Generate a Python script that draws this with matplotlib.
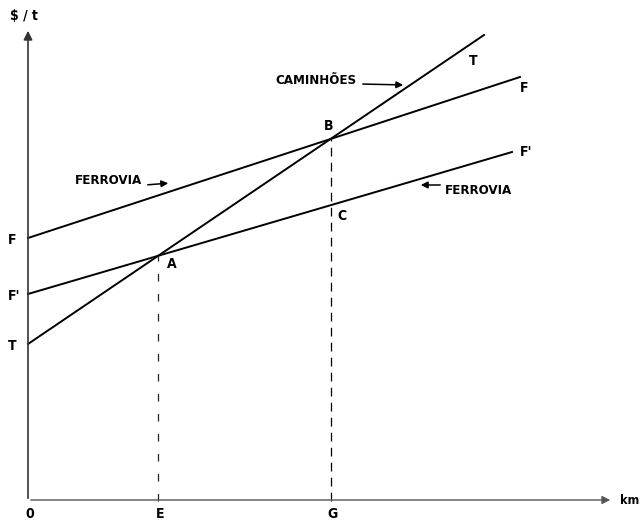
import matplotlib.pyplot as plt

# cost lines: (name, intercept at x=0, x end, y end)
line_names = ["F", "F'", "T"]
intercepts = [263, 207, 157]
x_ends = [492, 484, 456]
y_ends = [424, 349, 466]


def line_at(i, x):
    return intercepts[i] + (y_ends[i] - intercepts[i]) / x_ends[i] * x


def crossing(i, j):
    si = (y_ends[i] - intercepts[i]) / x_ends[i]
    sj = (y_ends[j] - intercepts[j]) / x_ends[j]
    x = (intercepts[j] - intercepts[i]) / (si - sj)
    return x, line_at(i, x)


A = crossing(1, 2)
B = crossing(0, 2)
C = (B[0], line_at(1, B[0]))

plt.rcParams['font.family'] = ['DejaVu Sans']
plt.rcParams['font.stretch'] = 'condensed'

fig = plt.figure(figsize=(6.42, 5.25), dpi=100)
ax = fig.add_axes([0, 0, 1, 1])
ax.set_xlim(-28, 614)
ax.set_ylim(-24, 501)
ax.axis('off')

# axes with arrows
ax.annotate('', xy=(0, 473), xytext=(0, 0),
            arrowprops=dict(arrowstyle='-|>', color='#333333', lw=1.2, mutation_scale=13))
ax.annotate('', xy=(585, 1), xytext=(0, 1),
            arrowprops=dict(arrowstyle='-|>', color='#555555', lw=1.0, mutation_scale=12))

for name, b, xe, ye in zip(line_names, intercepts, x_ends, y_ends):
    ax.plot([0, xe], [b, ye], color='black', lw=1.4)

# dashed drop lines
ax.plot([A[0], A[0]], [0, A[1]], color='#222222', lw=0.9, ls=(0, (6, 10)))
ax.plot([B[0], B[0]], [0, B[1]], color='black', lw=0.9, ls=(0, (7, 5)))

kw = dict(fontsize=9.5, fontweight='bold', color='black', fontstretch='condensed')
big = dict(kw, fontsize=10)
# left axis labels
ax.text(-20, intercepts[0] - 2, "F", ha='left', va='center', **big)
ax.text(-20, intercepts[1] - 2, "F'", ha='left', va='center', **big)
ax.text(-20, intercepts[2] - 2, "T", ha='left', va='center', **big)
ax.text(-18, 485, "$ / t", ha='left', va='center', **big)
ax.text(592, 1, "km", ha='left', va='center', **dict(kw, fontsize=9))

# bottom labels
ax.text(2, -13, "0", ha='center', va='center', **big)
ax.text(A[0] + 2, -13, "E", ha='center', va='center', **big)
ax.text(B[0] + 2, -13, "G", ha='center', va='center', **big)

# points
ax.text(A[0] + 14, A[1] - 8, "A", ha='center', va='center', **big)
ax.text(B[0] - 2, B[1] + 13, "B", ha='center', va='center', **big)
ax.text(B[0] + 11, C[1] - 11, "C", ha='center', va='center', **big)

# right-end labels
ax.text(x_ends[2] - 11, y_ends[2] - 26, "T", ha='center', va='center', **big)
ax.text(x_ends[0] + 4, y_ends[0] - 11, "F", ha='center', va='center', **big)
ax.text(x_ends[1] + 14, y_ends[1], "F'", ha='center', va='center', **big)

# annotations with arrows
ax.text(329, 421, "CAMINHÕES", ha='right', va='center', **kw)
ax.annotate('', xy=(378, 416), xytext=(332, 417),
            arrowprops=dict(arrowstyle='-|>', color='black', lw=1.1, mutation_scale=10))
ax.text(114, 320, "FERROVIA", ha='right', va='center', **kw)
ax.annotate('', xy=(143, 318), xytext=(117, 316),
            arrowprops=dict(arrowstyle='-|>', color='black', lw=1.1, mutation_scale=10))
ax.text(417, 311, "FERROVIA", ha='left', va='center', **kw)
ax.annotate('', xy=(390, 316), xytext=(415, 316),
            arrowprops=dict(arrowstyle='-|>', color='black', lw=1.1, mutation_scale=10))

fig.savefig("out.png", dpi=100)
